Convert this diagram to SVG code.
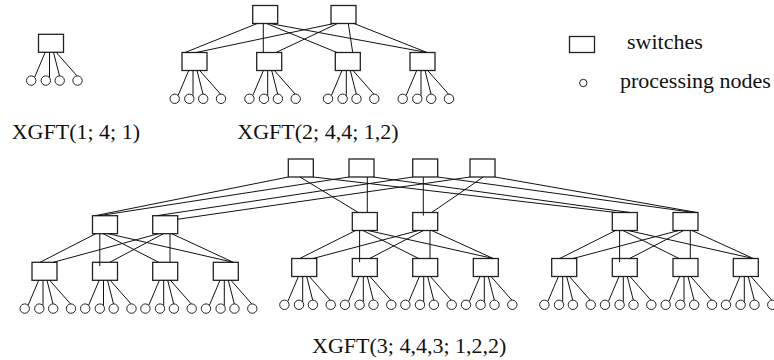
<svg xmlns="http://www.w3.org/2000/svg" width="774" height="360" viewBox="0 0 774 360">
<style>
.sw{fill:#fff;stroke:#222;stroke-width:1.3}
.pn{fill:#fff;stroke:#222;stroke-width:1}
#connectors line{stroke:#111;stroke-width:1}
.t{font-family:"Liberation Serif","Times New Roman",serif;font-size:22px;fill:#111}
</style>
<rect width="774" height="360" fill="#fff"/>
<!-- XGFT(1) -->
<g id="x1-s"><rect class="sw" x="38.5" y="34.3" width="25" height="18"/></g>
<g id="x1-p1"><circle class="pn" cx="31.2" cy="80.6" r="4.7"/></g>
<g id="x1-p2"><circle class="pn" cx="45.8" cy="80.6" r="4.7"/></g>
<g id="x1-p3"><circle class="pn" cx="59.7" cy="80.6" r="4.7"/></g>
<g id="x1-p4"><circle class="pn" cx="77.5" cy="80.6" r="4.7"/></g>
<!-- XGFT(2) switches -->
<g id="x2-t1"><rect class="sw" x="252.7" y="5.5" width="25" height="18"/></g>
<g id="x2-t2"><rect class="sw" x="331" y="5.5" width="25" height="18"/></g>
<g id="x2-l1"><rect class="sw" x="182" y="52.5" width="25" height="18"/></g>
<g id="x2-l2"><rect class="sw" x="256.7" y="52.5" width="25" height="18"/></g>
<g id="x2-l3"><rect class="sw" x="335.3" y="52.5" width="25" height="18"/></g>
<g id="x2-l4"><rect class="sw" x="410" y="52.5" width="25" height="18"/></g>
<!-- XGFT(2) processing nodes -->
<g id="x2-l1-p1"><circle class="pn" cx="174.7" cy="98.8" r="4.7"/></g>
<g id="x2-l1-p2"><circle class="pn" cx="189.3" cy="98.8" r="4.7"/></g>
<g id="x2-l1-p3"><circle class="pn" cx="203.2" cy="98.8" r="4.7"/></g>
<g id="x2-l1-p4"><circle class="pn" cx="221" cy="98.8" r="4.7"/></g>
<g id="x2-l2-p1"><circle class="pn" cx="249.4" cy="98.8" r="4.7"/></g>
<g id="x2-l2-p2"><circle class="pn" cx="264" cy="98.8" r="4.7"/></g>
<g id="x2-l2-p3"><circle class="pn" cx="277.9" cy="98.8" r="4.7"/></g>
<g id="x2-l2-p4"><circle class="pn" cx="295.7" cy="98.8" r="4.7"/></g>
<g id="x2-l3-p1"><circle class="pn" cx="328" cy="98.8" r="4.7"/></g>
<g id="x2-l3-p2"><circle class="pn" cx="342.6" cy="98.8" r="4.7"/></g>
<g id="x2-l3-p3"><circle class="pn" cx="356.5" cy="98.8" r="4.7"/></g>
<g id="x2-l3-p4"><circle class="pn" cx="374.3" cy="98.8" r="4.7"/></g>
<g id="x2-l4-p1"><circle class="pn" cx="402.7" cy="98.8" r="4.7"/></g>
<g id="x2-l4-p2"><circle class="pn" cx="417.3" cy="98.8" r="4.7"/></g>
<g id="x2-l4-p3"><circle class="pn" cx="431.2" cy="98.8" r="4.7"/></g>
<g id="x2-l4-p4"><circle class="pn" cx="449" cy="98.8" r="4.7"/></g>
<!-- XGFT(3) top switches -->
<g id="x3-t1"><rect class="sw" x="288.3" y="159" width="25" height="18"/></g>
<g id="x3-t2"><rect class="sw" x="349" y="159" width="25" height="18"/></g>
<g id="x3-t3"><rect class="sw" x="412.7" y="159" width="25" height="18"/></g>
<g id="x3-t4"><rect class="sw" x="470" y="159" width="25" height="18"/></g>
<!-- XGFT(3) level-2 switches -->
<g id="x3-g1-m1"><rect class="sw" x="92.5" y="215.7" width="25" height="18"/></g>
<g id="x3-g1-m2"><rect class="sw" x="152.7" y="215.7" width="25" height="18"/></g>
<g id="x3-g2-m1"><rect class="sw" x="352.3" y="212.5" width="25" height="18"/></g>
<g id="x3-g2-m2"><rect class="sw" x="412.7" y="212.5" width="25" height="18"/></g>
<g id="x3-g3-m1"><rect class="sw" x="612.3" y="212.5" width="25" height="18"/></g>
<g id="x3-g3-m2"><rect class="sw" x="673" y="212.5" width="25" height="18"/></g>
<!-- XGFT(3) level-1 switches -->
<g id="x3-g1-l1"><rect class="sw" x="32" y="262.3" width="25" height="18"/></g>
<g id="x3-g1-l2"><rect class="sw" x="92.5" y="262.3" width="25" height="18"/></g>
<g id="x3-g1-l3"><rect class="sw" x="152.7" y="262.3" width="25" height="18"/></g>
<g id="x3-g1-l4"><rect class="sw" x="213.3" y="262.3" width="25" height="18"/></g>
<g id="x3-g2-l1"><rect class="sw" x="291.7" y="258.5" width="25" height="18"/></g>
<g id="x3-g2-l2"><rect class="sw" x="352.3" y="258.5" width="25" height="18"/></g>
<g id="x3-g2-l3"><rect class="sw" x="412.7" y="258.5" width="25" height="18"/></g>
<g id="x3-g2-l4"><rect class="sw" x="473.3" y="258.5" width="25" height="18"/></g>
<g id="x3-g3-l1"><rect class="sw" x="551.7" y="258.5" width="25" height="18"/></g>
<g id="x3-g3-l2"><rect class="sw" x="612.3" y="258.5" width="25" height="18"/></g>
<g id="x3-g3-l3"><rect class="sw" x="673" y="258.5" width="25" height="18"/></g>
<g id="x3-g3-l4"><rect class="sw" x="733.3" y="258.5" width="25" height="18"/></g>
<!-- XGFT(3) processing nodes group 1 -->
<g id="x3-g1-l1-p1"><circle class="pn" cx="24.7" cy="308.6" r="4.7"/></g>
<g id="x3-g1-l1-p2"><circle class="pn" cx="39.3" cy="308.6" r="4.7"/></g>
<g id="x3-g1-l1-p3"><circle class="pn" cx="53.2" cy="308.6" r="4.7"/></g>
<g id="x3-g1-l1-p4"><circle class="pn" cx="71" cy="308.6" r="4.7"/></g>
<g id="x3-g1-l2-p1"><circle class="pn" cx="85.2" cy="308.6" r="4.7"/></g>
<g id="x3-g1-l2-p2"><circle class="pn" cx="99.8" cy="308.6" r="4.7"/></g>
<g id="x3-g1-l2-p3"><circle class="pn" cx="113.7" cy="308.6" r="4.7"/></g>
<g id="x3-g1-l2-p4"><circle class="pn" cx="131.5" cy="308.6" r="4.7"/></g>
<g id="x3-g1-l3-p1"><circle class="pn" cx="145.4" cy="308.6" r="4.7"/></g>
<g id="x3-g1-l3-p2"><circle class="pn" cx="160" cy="308.6" r="4.7"/></g>
<g id="x3-g1-l3-p3"><circle class="pn" cx="173.9" cy="308.6" r="4.7"/></g>
<g id="x3-g1-l3-p4"><circle class="pn" cx="191.7" cy="308.6" r="4.7"/></g>
<g id="x3-g1-l4-p1"><circle class="pn" cx="206" cy="308.6" r="4.7"/></g>
<g id="x3-g1-l4-p2"><circle class="pn" cx="220.6" cy="308.6" r="4.7"/></g>
<g id="x3-g1-l4-p3"><circle class="pn" cx="234.5" cy="308.6" r="4.7"/></g>
<g id="x3-g1-l4-p4"><circle class="pn" cx="252.3" cy="308.6" r="4.7"/></g>
<!-- group 2 -->
<g id="x3-g2-l1-p1"><circle class="pn" cx="284.4" cy="304.8" r="4.7"/></g>
<g id="x3-g2-l1-p2"><circle class="pn" cx="299" cy="304.8" r="4.7"/></g>
<g id="x3-g2-l1-p3"><circle class="pn" cx="312.9" cy="304.8" r="4.7"/></g>
<g id="x3-g2-l1-p4"><circle class="pn" cx="330.7" cy="304.8" r="4.7"/></g>
<g id="x3-g2-l2-p1"><circle class="pn" cx="345" cy="304.8" r="4.7"/></g>
<g id="x3-g2-l2-p2"><circle class="pn" cx="359.6" cy="304.8" r="4.7"/></g>
<g id="x3-g2-l2-p3"><circle class="pn" cx="373.5" cy="304.8" r="4.7"/></g>
<g id="x3-g2-l2-p4"><circle class="pn" cx="391.3" cy="304.8" r="4.7"/></g>
<g id="x3-g2-l3-p1"><circle class="pn" cx="405.4" cy="304.8" r="4.7"/></g>
<g id="x3-g2-l3-p2"><circle class="pn" cx="420" cy="304.8" r="4.7"/></g>
<g id="x3-g2-l3-p3"><circle class="pn" cx="433.9" cy="304.8" r="4.7"/></g>
<g id="x3-g2-l3-p4"><circle class="pn" cx="451.7" cy="304.8" r="4.7"/></g>
<g id="x3-g2-l4-p1"><circle class="pn" cx="466" cy="304.8" r="4.7"/></g>
<g id="x3-g2-l4-p2"><circle class="pn" cx="480.6" cy="304.8" r="4.7"/></g>
<g id="x3-g2-l4-p3"><circle class="pn" cx="494.5" cy="304.8" r="4.7"/></g>
<g id="x3-g2-l4-p4"><circle class="pn" cx="512.3" cy="304.8" r="4.7"/></g>
<!-- group 3 -->
<g id="x3-g3-l1-p1"><circle class="pn" cx="544.4" cy="304.8" r="4.7"/></g>
<g id="x3-g3-l1-p2"><circle class="pn" cx="559" cy="304.8" r="4.7"/></g>
<g id="x3-g3-l1-p3"><circle class="pn" cx="572.9" cy="304.8" r="4.7"/></g>
<g id="x3-g3-l1-p4"><circle class="pn" cx="590.7" cy="304.8" r="4.7"/></g>
<g id="x3-g3-l2-p1"><circle class="pn" cx="605" cy="304.8" r="4.7"/></g>
<g id="x3-g3-l2-p2"><circle class="pn" cx="619.6" cy="304.8" r="4.7"/></g>
<g id="x3-g3-l2-p3"><circle class="pn" cx="633.5" cy="304.8" r="4.7"/></g>
<g id="x3-g3-l2-p4"><circle class="pn" cx="651.3" cy="304.8" r="4.7"/></g>
<g id="x3-g3-l3-p1"><circle class="pn" cx="665.7" cy="304.8" r="4.7"/></g>
<g id="x3-g3-l3-p2"><circle class="pn" cx="680.3" cy="304.8" r="4.7"/></g>
<g id="x3-g3-l3-p3"><circle class="pn" cx="694.2" cy="304.8" r="4.7"/></g>
<g id="x3-g3-l3-p4"><circle class="pn" cx="712" cy="304.8" r="4.7"/></g>
<g id="x3-g3-l4-p1"><circle class="pn" cx="726" cy="304.8" r="4.7"/></g>
<g id="x3-g3-l4-p2"><circle class="pn" cx="740.6" cy="304.8" r="4.7"/></g>
<g id="x3-g3-l4-p3"><circle class="pn" cx="754.5" cy="304.8" r="4.7"/></g>
<g id="x3-g3-l4-p4"><circle class="pn" cx="772.3" cy="304.8" r="4.7"/></g>
<!-- legend -->
<g id="legend-switch"><rect class="sw" x="569.5" y="36.5" width="25" height="16"/><text class="t" x="627" y="48.5">switches</text></g>
<g id="legend-pn"><circle class="pn" cx="583.3" cy="83" r="3.7"/><text class="t" x="620" y="88">processing nodes</text></g>
<!-- labels -->
<text class="t" x="11.7" y="139">XGFT(1; 4; 1)</text>
<text class="t" x="237.3" y="139">XGFT(2; 4,4; 1,2)</text>
<text class="t" x="312" y="353">XGFT(3; 4,4,3; 1,2,2)</text>
<g id="connectors">
<!-- XGFT(1) -->
<line x1="45.2" y1="52.3" x2="34.6" y2="77.3"/>
<line x1="49.5" y1="52.3" x2="49.5" y2="77.6"/>
<line x1="53.5" y1="52.3" x2="59.5" y2="75.9"/>
<line x1="56.2" y1="52.3" x2="77" y2="75.9"/>
<!-- XGFT(2) top -->
<line x1="257.3" y1="23.5" x2="185" y2="52.5"/>
<line x1="263.3" y1="23.5" x2="263.3" y2="52.5"/>
<line x1="266.5" y1="23.5" x2="337" y2="52.5"/>
<line x1="270" y1="23.5" x2="427" y2="52.5"/>
<line x1="334" y1="23.5" x2="196" y2="52.5"/>
<line x1="337.5" y1="23.5" x2="276" y2="52.5"/>
<line x1="348.3" y1="23.5" x2="352.7" y2="52.5"/>
<line x1="354" y1="23.5" x2="427" y2="52.5"/>
<!-- XGFT(2) leaves -->
<line x1="188.7" y1="70.5" x2="178.1" y2="95.5"/><line x1="193" y1="70.5" x2="193" y2="95.8"/><line x1="197" y1="70.5" x2="203" y2="94.1"/><line x1="199.7" y1="70.5" x2="220.5" y2="94.1"/>
<line x1="263.4" y1="70.5" x2="252.8" y2="95.5"/><line x1="267.7" y1="70.5" x2="267.7" y2="95.8"/><line x1="271.7" y1="70.5" x2="277.7" y2="94.1"/><line x1="274.4" y1="70.5" x2="295.2" y2="94.1"/>
<line x1="342" y1="70.5" x2="331.4" y2="95.5"/><line x1="346.3" y1="70.5" x2="346.3" y2="95.8"/><line x1="350.3" y1="70.5" x2="356.3" y2="94.1"/><line x1="353" y1="70.5" x2="373.8" y2="94.1"/>
<line x1="416.7" y1="70.5" x2="406.1" y2="95.5"/><line x1="421" y1="70.5" x2="421" y2="95.8"/><line x1="425" y1="70.5" x2="431" y2="94.1"/><line x1="427.7" y1="70.5" x2="448.5" y2="94.1"/>
<!-- XGFT(3) top level -->
<line x1="95" y1="215.7" x2="288.3" y2="177"/>
<line x1="99" y1="215.7" x2="349" y2="177"/>
<line x1="156.7" y1="215.7" x2="412.7" y2="177"/>
<line x1="177.3" y1="219.3" x2="470" y2="177"/>
<line x1="300" y1="177" x2="358.3" y2="212.5"/>
<line x1="367.3" y1="177" x2="367.3" y2="212.5"/>
<line x1="423.3" y1="177" x2="423.3" y2="215.7"/>
<line x1="483.3" y1="177" x2="431.7" y2="212.5"/>
<line x1="313.3" y1="177" x2="616" y2="212.5"/>
<line x1="373.3" y1="177" x2="630" y2="212.5"/>
<line x1="437.7" y1="177" x2="694" y2="212.5"/>
<line x1="495" y1="177" x2="697" y2="212.5"/>
<!-- XGFT(3) group 1 level 2 -->
<line x1="95.8" y1="233.7" x2="40" y2="262.3"/>
<line x1="99.8" y1="233.7" x2="99.8" y2="266"/>
<line x1="103.2" y1="233.7" x2="158.7" y2="262.3"/>
<line x1="108.2" y1="233.7" x2="233.3" y2="262.3"/>
<line x1="158.4" y1="233.7" x2="53.3" y2="262.3"/>
<line x1="163.4" y1="233.7" x2="109.8" y2="262.3"/>
<line x1="170" y1="233.7" x2="170" y2="262.3"/>
<line x1="171.7" y1="233.7" x2="233.3" y2="262.3"/>
<!-- group 2 level 2 -->
<line x1="355.6" y1="230.5" x2="299.7" y2="258.5"/>
<line x1="359.6" y1="230.5" x2="359.6" y2="262.2"/>
<line x1="363" y1="230.5" x2="418.7" y2="258.5"/>
<line x1="368" y1="230.5" x2="493.3" y2="258.5"/>
<line x1="418.4" y1="230.5" x2="313" y2="258.5"/>
<line x1="423.4" y1="230.5" x2="369.6" y2="258.5"/>
<line x1="430" y1="230.5" x2="430" y2="258.5"/>
<line x1="431.7" y1="230.5" x2="493.3" y2="258.5"/>
<!-- group 3 level 2 -->
<line x1="615.6" y1="230.5" x2="559.7" y2="258.5"/>
<line x1="619.6" y1="230.5" x2="619.6" y2="262.2"/>
<line x1="623" y1="230.5" x2="679" y2="258.5"/>
<line x1="628" y1="230.5" x2="753.3" y2="258.5"/>
<line x1="678.7" y1="230.5" x2="573" y2="258.5"/>
<line x1="683.7" y1="230.5" x2="629.6" y2="258.5"/>
<line x1="690.3" y1="230.5" x2="690.3" y2="258.5"/>
<line x1="692" y1="230.5" x2="753.3" y2="258.5"/>
<!-- group 1 leaves -->
<line x1="38.7" y1="280.3" x2="28.1" y2="305.3"/><line x1="43" y1="280.3" x2="43" y2="305.6"/><line x1="47" y1="280.3" x2="53" y2="303.9"/><line x1="49.7" y1="280.3" x2="70.5" y2="303.9"/>
<line x1="99.2" y1="280.3" x2="88.6" y2="305.3"/><line x1="103.5" y1="280.3" x2="103.5" y2="305.6"/><line x1="107.5" y1="280.3" x2="113.5" y2="303.9"/><line x1="110.2" y1="280.3" x2="131" y2="303.9"/>
<line x1="159.4" y1="280.3" x2="148.8" y2="305.3"/><line x1="163.7" y1="280.3" x2="163.7" y2="305.6"/><line x1="167.7" y1="280.3" x2="173.7" y2="303.9"/><line x1="170.4" y1="280.3" x2="191.2" y2="303.9"/>
<line x1="220" y1="280.3" x2="209.4" y2="305.3"/><line x1="224.3" y1="280.3" x2="224.3" y2="305.6"/><line x1="228.3" y1="280.3" x2="234.3" y2="303.9"/><line x1="231" y1="280.3" x2="251.8" y2="303.9"/>
<!-- group 2 leaves -->
<line x1="298.4" y1="276.5" x2="287.8" y2="301.5"/><line x1="302.7" y1="276.5" x2="302.7" y2="301.8"/><line x1="306.7" y1="276.5" x2="312.7" y2="300.1"/><line x1="309.4" y1="276.5" x2="330.2" y2="300.1"/>
<line x1="359" y1="276.5" x2="348.4" y2="301.5"/><line x1="363.3" y1="276.5" x2="363.3" y2="301.8"/><line x1="367.3" y1="276.5" x2="373.3" y2="300.1"/><line x1="370" y1="276.5" x2="390.8" y2="300.1"/>
<line x1="419.4" y1="276.5" x2="408.8" y2="301.5"/><line x1="423.7" y1="276.5" x2="423.7" y2="301.8"/><line x1="427.7" y1="276.5" x2="433.7" y2="300.1"/><line x1="430.4" y1="276.5" x2="451.2" y2="300.1"/>
<line x1="480" y1="276.5" x2="469.4" y2="301.5"/><line x1="484.3" y1="276.5" x2="484.3" y2="301.8"/><line x1="488.3" y1="276.5" x2="494.3" y2="300.1"/><line x1="491" y1="276.5" x2="511.8" y2="300.1"/>
<!-- group 3 leaves -->
<line x1="558.4" y1="276.5" x2="547.8" y2="301.5"/><line x1="562.7" y1="276.5" x2="562.7" y2="301.8"/><line x1="566.7" y1="276.5" x2="572.7" y2="300.1"/><line x1="569.4" y1="276.5" x2="590.2" y2="300.1"/>
<line x1="619" y1="276.5" x2="608.4" y2="301.5"/><line x1="623.3" y1="276.5" x2="623.3" y2="301.8"/><line x1="627.3" y1="276.5" x2="633.3" y2="300.1"/><line x1="630" y1="276.5" x2="650.8" y2="300.1"/>
<line x1="679.7" y1="276.5" x2="669.1" y2="301.5"/><line x1="684" y1="276.5" x2="684" y2="301.8"/><line x1="688" y1="276.5" x2="694" y2="300.1"/><line x1="690.7" y1="276.5" x2="711.5" y2="300.1"/>
<line x1="740" y1="276.5" x2="729.4" y2="301.5"/><line x1="744.3" y1="276.5" x2="744.3" y2="301.8"/><line x1="748.3" y1="276.5" x2="754.3" y2="300.1"/><line x1="751" y1="276.5" x2="771.8" y2="300.1"/>
</g>
</svg>
